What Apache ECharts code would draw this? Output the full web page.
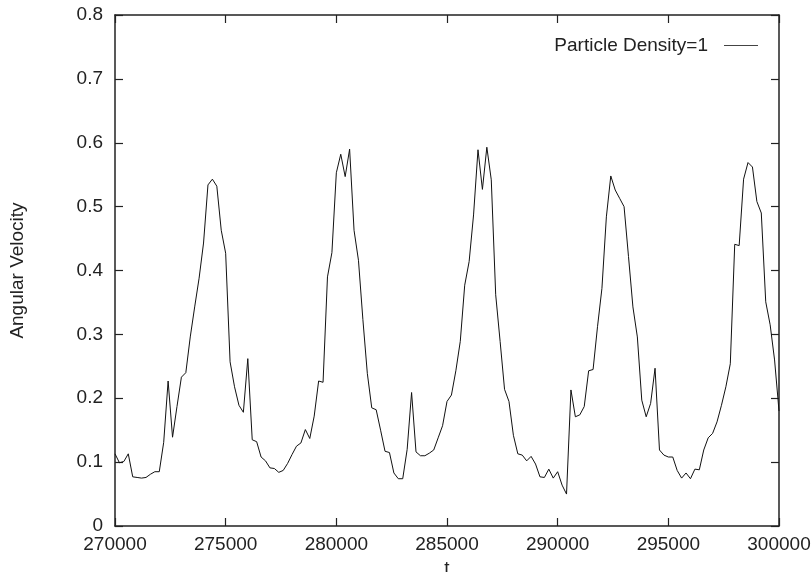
<!DOCTYPE html>
<html>
<head>
<meta charset="utf-8">
<script src="https://cdn.jsdelivr.net/npm/echarts@6/dist/echarts.min.js"></script>
<style>
html,body{margin:0;padding:0;background:#fff;}
#chart{width:811px;height:572px;}
</style>
</head>
<body>
<div id="chart"></div>
<script>
// Sampling of time axis
const tStart = 270000;
const tStep = 200;
// Angular velocity samples
const angularVelocity = [
  0.113,0.099,0.101,0.113,0.077,0.076,0.075,0.076,0.081,0.085,
  0.085,0.131,0.227,0.139,0.187,0.233,0.240,0.296,0.343,0.388,
  0.443,0.534,0.543,0.532,0.463,0.427,0.257,0.218,0.189,0.178,
  0.262,0.135,0.132,0.108,0.102,0.091,0.090,0.084,0.087,0.098,
  0.112,0.125,0.130,0.151,0.137,0.172,0.227,0.225,0.390,0.428,
  0.553,0.582,0.547,0.590,0.463,0.416,0.323,0.239,0.185,0.182,
  0.150,0.117,0.115,0.083,0.074,0.074,0.120,0.209,0.116,0.110,
  0.110,0.114,0.119,0.138,0.157,0.195,0.205,0.243,0.289,0.377,
  0.414,0.487,0.589,0.527,0.593,0.542,0.362,0.289,0.214,0.195,
  0.142,0.113,0.111,0.102,0.109,0.097,0.077,0.076,0.089,0.075,
  0.085,0.064,0.050,0.213,0.171,0.174,0.187,0.243,0.245,0.312,
  0.372,0.484,0.548,0.526,0.513,0.500,0.422,0.343,0.296,0.197,
  0.171,0.192,0.247,0.119,0.111,0.108,0.108,0.087,0.075,0.083,
  0.074,0.089,0.088,0.119,0.138,0.145,0.163,0.189,0.218,0.254,
  0.441,0.439,0.543,0.569,0.562,0.508,0.490,0.351,0.315,0.260,
  0.180
];
const seriesName = 'Particle Density=1';
const xTicks = {min: 270000, max: 300000, interval: 5000};
const yTicks = {min: 0, max: 0.8, interval: 0.1};

const times = angularVelocity.map((_, i) => tStart + i * tStep);
const data = times.map((t, i) => [t, angularVelocity[i]]);

const FONT = '"Liberation Sans", Arial, Helvetica, sans-serif';
const TXT = '#222';
const line = () => ({show: true, onZero: false, lineStyle: {color: '#222', width: 1.5}});
const tick = () => ({show: true, inside: true, length: 8, lineStyle: {color: '#222', width: 1.2}});

const chart = echarts.init(document.getElementById('chart'), null, {renderer: 'canvas'});
chart.setOption({
  animation: false,
  backgroundColor: '#fff',
  grid: {left: 115, right: 32, top: 15, bottom: 46, containLabel: false, outerBoundsMode: 'none'},
  legend: {
    data: [{name: seriesName, icon: 'rect'}],
    right: 48, top: 31,
    align: 'right',
    itemWidth: 34, itemHeight: 1.2,
    itemStyle: {color: '#444'},
    textStyle: {fontFamily: FONT, fontSize: 19, color: TXT, padding: [0, 11, 0, 0]}
  },
  xAxis: [{
    type: 'value', position: 'bottom',
    min: xTicks.min, max: xTicks.max, interval: xTicks.interval,
    name: 't', nameLocation: 'middle', nameGap: 30,
    nameTextStyle: {fontFamily: FONT, fontSize: 19, color: TXT},
    axisLine: line(), axisTick: tick(),
    axisLabel: {fontFamily: FONT, fontSize: 19, color: TXT, margin: 9, formatter: v => String(v)},
    splitLine: {show: false}
  }, {
    type: 'value', position: 'top',
    min: xTicks.min, max: xTicks.max, interval: xTicks.interval,
    axisLine: line(), axisTick: tick(), axisLabel: {show: false}, splitLine: {show: false}
  }],
  yAxis: [{
    type: 'value', position: 'left',
    min: yTicks.min, max: yTicks.max, interval: yTicks.interval,
    name: 'Angular Velocity', nameLocation: 'middle', nameGap: 88, nameRotate: 90,
    nameTextStyle: {fontFamily: FONT, fontSize: 19, color: TXT},
    axisLine: line(), axisTick: tick(),
    axisLabel: {fontFamily: FONT, fontSize: 19, color: TXT, margin: 12,
      formatter: v => (Math.abs(v) < 1e-9 ? '0' : v.toFixed(1))},
    splitLine: {show: false}
  }, {
    type: 'value', position: 'right',
    min: yTicks.min, max: yTicks.max, interval: yTicks.interval,
    axisLine: line(), axisTick: tick(), axisLabel: {show: false}, splitLine: {show: false}
  }],
  series: [{
    name: seriesName,
    type: 'line',
    xAxisIndex: 0, yAxisIndex: 0,
    data: data,
    symbol: 'none',
    lineStyle: {color: '#111', width: 1},
    itemStyle: {color: '#111'}
  }]
});
</script>
</body>
</html>
